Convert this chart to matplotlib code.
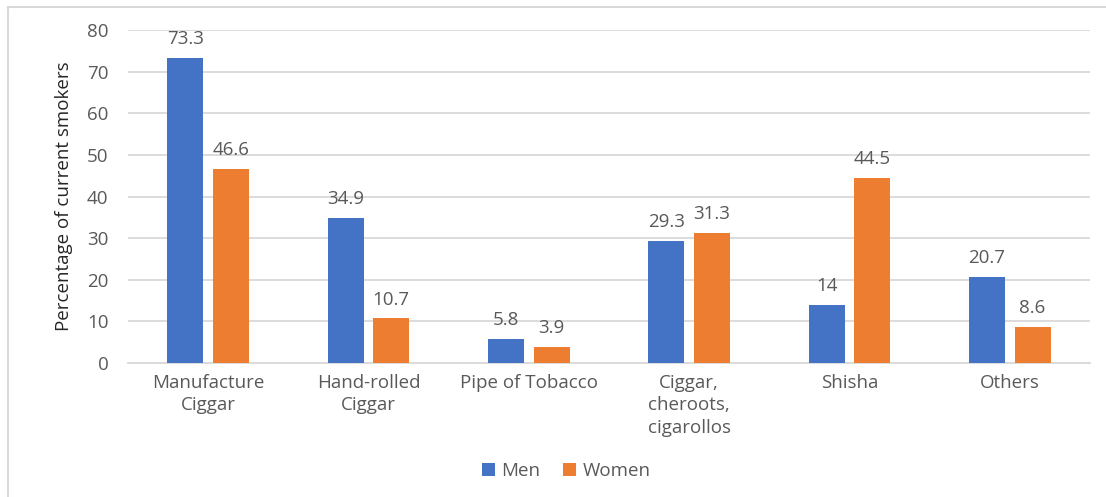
import matplotlib
matplotlib.use("Agg")
import matplotlib.pyplot as plt
import numpy as np
from matplotlib.patches import Rectangle

categories = ["Manufacture\nCiggar", "Hand-rolled\nCiggar", "Pipe of Tobacco",
              "Ciggar,\ncheroots,\ncigarollos", "Shisha", "Others"]
men = [73.3, 34.9, 5.8, 29.3, 14, 20.7]
women = [46.6, 10.7, 3.9, 31.3, 44.5, 8.6]
men_labels = ["73.3", "34.9", "5.8", "29.3", "14", "20.7"]
women_labels = ["46.6", "10.7", "3.9", "31.3", "44.5", "8.6"]

plt.rcParams['font.family'] = ['Open Sans', 'DejaVu Sans']
TXT = "#595959"
BLUE = "#4472C4"
ORANGE = "#ED7D31"
FS = 13.5

W, H = 1106, 497
fig = plt.figure(figsize=(W/100, H/100), dpi=100)
ax = fig.add_axes([128/W, 1-363/H, (1090-128)/W, (363-30)/H])

x = np.arange(len(categories))
bw = 0.225
off = 0.142
b1 = ax.bar(x - off, men, bw, color=BLUE, label="Men", zorder=3)
b2 = ax.bar(x + off, women, bw, color=ORANGE, label="Women", zorder=3)
for bars, labs in ((b1, men_labels), (b2, women_labels)):
    for r, t in zip(bars, labs):
        ax.annotate(t, (r.get_x() + r.get_width()/2, r.get_height()),
                    xytext=(0, 7), textcoords="offset points",
                    ha="center", va="bottom", fontsize=FS, color=TXT)

ax.set_xlim(-0.5, len(categories) - 0.5)
ax.set_ylim(0, 80)
ax.set_yticks(range(0, 81, 10))
ax.yaxis.grid(True, color="#D9D9D9", linewidth=1.3, zorder=0)
ax.set_axisbelow(True)
for s in ("top", "right", "left"):
    ax.spines[s].set_visible(False)
ax.spines["bottom"].set_color("#D9D9D9")
ax.spines["bottom"].set_linewidth(1.3)
ax.tick_params(axis="both", length=0, colors=TXT, labelsize=FS)
ax.tick_params(axis="y", pad=14)
ax.tick_params(axis="x", pad=8)
ax.set_xticks(x)
ax.set_xticklabels(categories, linespacing=1.3)
ax.set_ylabel("Percentage of current smokers", fontsize=FS, color="#262626", labelpad=10)

fig.legend(handles=[b1, b2], labels=["Men", "Women"], loc="center",
           bbox_to_anchor=(566/W, 1-471/H), ncol=2, frameon=False,
           fontsize=FS, labelcolor=TXT, handlelength=0.7, handleheight=0.7,
           columnspacing=1.2, handletextpad=0.35)

fig.patches.append(Rectangle((8/W, -0.1), 1.2, 1 - 7/H + 0.1, transform=fig.transFigure,
                             fill=False, edgecolor="#D9D9D9", linewidth=1.5))

fig.savefig("out.png", dpi=100)
